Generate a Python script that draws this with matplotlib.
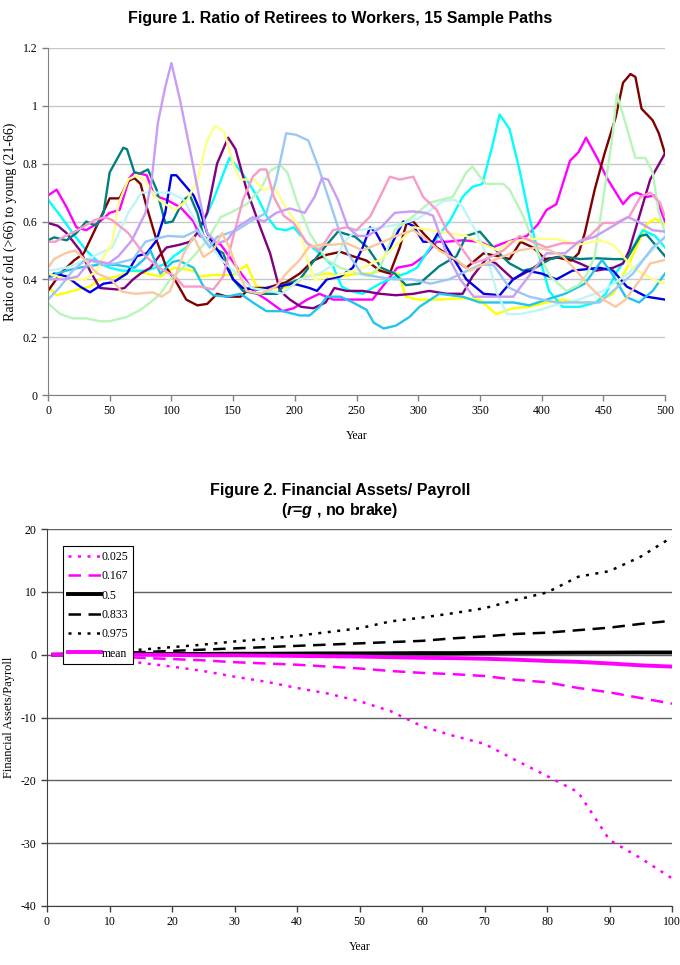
import matplotlib
matplotlib.use("Agg")
import matplotlib.pyplot as plt
from matplotlib.ticker import FuncFormatter
import numpy as np

plt.rcParams["axes.unicode_minus"] = False
plt.rcParams["mathtext.fontset"] = "custom"
plt.rcParams["mathtext.bfit"] = "Liberation Sans:italic:bold"

# ---- Figure 1 data: 15 sample paths, (year, ratio) knots ----
magenta = [(0, .69), (7, .71), (15, .65), (23, .58), (31, .57), (42, .60), (50, .63), (58, .64), (66, .75), (70, .77),
           (80, .76), (86, .69), (96, .675), (107, .65), (118, .60), (123, .55), (130, .54), (140, .52), (150, .46),
           (160, .40), (166, .36), (177, .33), (190, .29), (199, .30), (210, .33), (220, .35), (231, .33), (242, .33),
           (255, .33), (263, .33), (272, .38), (283, .44), (295, .45), (305, .48), (315, .53), (323, .53), (336, .535),
           (350, .53), (360, .51), (369, .525), (380, .54), (388, .55), (397, .59), (404, .64), (412, .66), (423, .81),
           (430, .84), (436, .89), (445, .82), (453, .75), (466, .66), (472, .69), (477, .70), (485, .685), (492, .69),
           (500, .60)]
yellow = [(0, .375), (7, .345), (20, .36), (34, .375), (42, .40), (56, .41), (69, .43), (80, .42), (91, .41), (102, .44),
          (118, .43), (123, .41), (134, .415), (150, .415), (161, .45), (169, .375), (177, .37), (190, .37), (200, .38),
          (208, .41), (227, .42), (240, .41), (250, .42), (261, .42), (270, .43), (284, .42), (290, .34), (300, .33),
          (317, .33), (336, .335), (350, .33), (363, .28), (377, .30), (390, .305), (404, .32), (417, .33), (431, .32),
          (444, .32), (458, .35), (471, .455), (485, .59), (492, .61), (500, .59)]
cyan = [(0, .675), (10, .62), (20, .56), (31, .50), (42, .455), (50, .44), (60, .43), (80, .43), (96, .455), (102, .48),
        (112, .51), (123, .57), (134, .675), (147, .82), (155, .78), (161, .745), (169, .69), (177, .62), (185, .575),
        (193, .57), (199, .58), (210, .525), (220, .49), (231, .445), (238, .375), (245, .36), (255, .35), (269, .385),
        (282, .41), (290, .42), (299, .44), (312, .525), (326, .605), (336, .685), (344, .72), (352, .73), (360, .86),
        (366, .97), (374, .92), (382, .78), (390, .617), (398, .48), (406, .36), (417, .305), (431, .305), (444, .32),
        (452, .35), (460, .42), (471, .49), (482, .57), (492, .55), (500, .51)]
purple = [(0, .595), (8, .585), (15, .56), (26, .50), (34, .43), (42, .37), (56, .365), (62, .37), (69, .40), (75, .42),
          (83, .44), (90, .48), (96, .51), (107, .52), (115, .53), (121, .56), (129, .63), (137, .80), (146, .89),
          (152, .85), (161, .71), (172, .58), (180, .49), (188, .36), (196, .33), (205, .305), (215, .30), (225, .32),
          (232, .37), (242, .36), (255, .36), (269, .35), (282, .345), (296, .35), (309, .36), (323, .35), (336, .35),
          (344, .41), (355, .47), (363, .455), (377, .40), (390, .43), (404, .47), (417, .48), (431, .455), (444, .43),
          (458, .44), (466, .455), (471, .50), (480, .63), (488, .745), (500, .835)]
maroon = [(0, .36), (10, .42), (21, .465), (29, .49), (39, .58), (50, .68), (58, .68), (65, .74), (70, .75), (75, .73),
          (80, .65), (88, .535), (96, .44), (104, .39), (112, .33), (121, .31), (129, .315), (137, .35), (145, .34),
          (156, .34), (164, .37), (177, .37), (193, .39), (204, .42), (215, .465), (226, .485), (237, .495), (247, .48),
          (258, .465), (269, .43), (277, .42), (285, .51), (291, .60), (296, .60), (304, .56), (315, .51), (326, .48),
          (339, .44), (353, .49), (365, .48), (374, .47), (383, .53), (393, .51), (403, .47), (413, .475), (424, .465),
          (430, .49), (435, .56), (443, .71), (451, .835), (460, .96), (466, 1.08), (472, 1.11), (476, 1.10), (481, .99),
          (490, .95), (495, .905), (500, .835)]
teal = [(0, .535), (5, .545), (15, .535), (23, .56), (31, .60), (39, .585), (45, .63), (50, .77), (61, .855), (64, .85),
        (70, .77), (74, .765), (81, .78), (88, .71), (95, .595), (101, .60), (110, .675), (115, .69), (121, .63),
        (126, .55), (134, .51), (142, .49), (150, .40), (158, .36), (170, .35), (186, .35), (191, .38), (204, .40),
        (216, .467), (224, .51), (235, .565), (249, .547), (259, .51), (270, .44), (281, .42), (290, .38), (301, .385),
        (317, .445), (331, .48), (339, .55), (350, .565), (361, .51), (374, .455), (385, .43), (395, .44), (407, .47),
        (417, .48), (431, .47), (444, .473), (458, .47), (469, .47), (480, .55), (485, .555), (493, .515), (500, .48)]
blue = [(0, .405), (5, .42), (15, .41), (26, .375), (34, .355), (45, .385), (53, .39), (64, .42), (72, .48), (80, .49),
        (88, .535), (95, .63), (100, .76), (104, .76), (112, .72), (118, .69), (123, .64), (129, .56), (139, .49),
        (150, .40), (158, .37), (169, .365), (186, .375), (199, .385), (212, .37), (218, .36), (226, .40), (237, .41),
        (247, .44), (255, .51), (261, .58), (266, .56), (275, .49), (280, .535), (288, .60), (296, .585), (304, .53),
        (312, .53), (316, .56), (326, .49), (339, .40), (353, .35), (366, .345), (377, .40), (388, .43), (400, .42),
        (412, .40), (425, .43), (447, .44), (458, .43), (469, .375), (485, .34), (500, .33)]
sky_blue = [(0, .40), (7, .42), (15, .43), (25, .44), (40, .45), (55, .45), (70, .44), (78, .47), (83, .50), (91, .42),
            (101, .46), (106, .465), (118, .44), (126, .375), (134, .345), (145, .34), (156, .35), (166, .32), (177, .29),
            (190, .29), (204, .275), (212, .275), (220, .305), (226, .34), (237, .34), (247, .32), (258, .295), (264, .25),
            (272, .23), (282, .24), (293, .27), (301, .305), (310, .33), (317, .35), (336, .34), (350, .32), (363, .32),
            (377, .32), (390, .31), (404, .33), (419, .35), (435, .385), (449, .467), (457, .42), (468, .34), (479, .32),
            (490, .36), (500, .42)]
light_turquoise = [(0, .43), (15, .44), (32, .47), (52, .51), (65, .63), (76, .70), (87, .70), (99, .70), (110, .675),
                   (126, .55), (140, .47), (153, .42), (165, .37), (180, .36), (190, .35), (204, .40), (220, .42),
                   (231, .45), (240, .53), (250, .57), (270, .58), (285, .59), (300, .61), (307, .63), (320, .67),
                   (330, .675), (336, .65), (345, .58), (355, .49), (364, .35), (372, .28), (383, .28), (399, .295),
                   (410, .31), (430, .33), (450, .36), (470, .42), (490, .50), (500, .55)]
light_green = [(0, .317), (10, .28), (20, .265), (31, .265), (42, .255), (50, .255), (64, .27), (75, .295), (83, .32),
               (91, .35), (99, .40), (107, .43), (118, .48), (129, .535), (140, .615), (150, .635), (161, .66), (172, .71),
               (180, .775), (188, .795), (194, .77), (202, .665), (212, .56), (226, .467), (237, .44), (250, .42),
               (261, .41), (270, .45), (281, .57), (295, .615), (309, .665), (328, .685), (339, .77), (344, .79),
               (350, .755), (355, .73), (369, .73), (374, .71), (385, .62), (396, .50), (407, .41), (420, .36), (430, .38),
               (437, .42), (443, .48), (451, .71), (457, .88), (461, 1.04), (468, .94), (476, .82), (484, .82), (490, .77),
               (495, .63), (500, .56)]
light_yellow = [(0, .42), (15, .40), (30, .40), (40, .43), (44, .47), (52, .525), (57, .66), (65, .745), (72, .76),
                (78, .745), (87, .685), (95, .66), (103, .64), (113, .675), (121, .745), (129, .88), (135, .93), (143, .91),
                (150, .80), (156, .745), (167, .745), (175, .71), (183, .72), (194, .64), (204, .58), (210, .47),
                (216, .40), (230, .41), (250, .43), (270, .47), (285, .53), (296, .58), (310, .57), (325, .56), (339, .55),
                (353, .52), (365, .50), (374, .53), (393, .54), (412, .54), (430, .52), (447, .535), (458, .52),
                (474, .44), (490, .40), (500, .385)]
pale_blue = [(0, .33), (10, .375), (20, .43), (31, .47), (45, .45), (55, .455), (69, .47), (79, .53), (87, .54), (97, .55),
             (110, .547), (121, .57), (131, .51), (137, .547), (153, .57), (166, .605), (177, .63), (185, .745),
             (193, .905), (201, .90), (211, .88), (219, .79), (227, .685), (235, .58), (243, .49), (254, .42), (265, .41),
             (280, .40), (295, .40), (310, .385), (325, .40), (340, .43), (350, .45), (361, .45), (374, .37), (390, .34),
             (412, .32), (447, .32), (458, .36), (474, .42), (490, .51), (500, .545)]
rose = [(0, .53), (6, .53), (14, .55), (24, .57), (38, .605), (46, .615), (52, .605), (65, .56), (79, .48), (90, .44),
        (103, .41), (110, .375), (123, .375), (134, .365), (142, .41), (150, .545), (158, .675), (166, .755), (172, .78),
        (177, .78), (183, .685), (191, .62), (199, .595), (210, .525), (220, .50), (231, .57), (242, .58), (250, .57),
        (261, .617), (269, .685), (277, .755), (285, .745), (296, .755), (304, .685), (315, .64), (323, .57), (334, .515),
        (344, .455), (355, .47), (369, .50), (382, .55), (393, .53), (404, .51), (417, .525), (428, .525), (439, .55),
        (450, .595), (460, .595), (471, .617), (480, .685), (488, .70), (496, .665), (500, .617)]
lavender = [(0, .40), (14, .40), (24, .41), (35, .467), (49, .455), (57, .48), (68, .535), (79, .63), (84, .745), (89, .94),
            (95, 1.065), (100, 1.148), (107, 1.02), (115, .85), (123, .675), (129, .56), (137, .525), (145, .535),
            (153, .58), (166, .615), (175, .60), (185, .63), (196, .645), (208, .63), (216, .685), (222, .75), (227, .745),
            (235, .675), (243, .58), (251, .55), (259, .55), (270, .58), (281, .63), (295, .635), (306, .63), (312, .62),
            (323, .49), (334, .40), (345, .34), (361, .34), (377, .34), (393, .43), (404, .49), (419, .49), (430, .53),
            (443, .547), (462, .595), (470, .615), (478, .60), (490, .57), (500, .565)]
tan = [(0, .44), (5, .47), (14, .49), (22, .50), (30, .467), (40, .42), (51, .40), (60, .357), (71, .35), (85, .355),
       (92, .34), (99, .36), (110, .49), (118, .547), (126, .477), (134, .50), (141, .56), (147, .51), (153, .44),
       (161, .36), (172, .35), (185, .375), (193, .42), (204, .467), (211, .51), (221, .52), (232, .52), (242, .525),
       (255, .50), (269, .525), (282, .55), (296, .57), (306, .54), (317, .50), (331, .467), (342, .43), (355, .455),
       (369, .48), (382, .50), (396, .51), (407, .50), (417, .48), (428, .43), (439, .375), (450, .33), (460, .305),
       (468, .33), (480, .40), (488, .455), (500, .467)]

paths = [magenta, yellow, cyan, purple, maroon, teal, blue, sky_blue, light_turquoise,
         light_green, light_yellow, pale_blue, rose, lavender, tan]
path_colors = ["#FF00FF", "#FFFF00", "#00FFFF", "#800080", "#800000", "#008080", "#0000E6", "#22C4EE",
               "#BFF5F7", "#B8F5B8", "#FFFF88", "#99C8F5", "#F79CC8", "#C99CF5", "#FAC8A0"]

# ---- Figure 2 data: percentiles of financial assets / payroll ----
years2 = [1, 5, 10, 15, 20, 25, 30, 35, 40, 45, 50, 55, 60, 65, 70, 75, 80, 85, 90, 95, 100]
p025 = [0, -0.3, -0.6, -1.3, -1.9, -2.6, -3.5, -4.3, -5.3, -6.2, -7.4, -9.0, -11.4, -12.9, -14.2, -16.8, -19.3,
        -21.9, -29.5, -32.4, -35.6]
p167 = [0, -0.1, -0.3, -0.5, -0.7, -0.9, -1.2, -1.4, -1.6, -1.9, -2.2, -2.6, -2.9, -3.1, -3.4, -4.0, -4.4,
        -5.3, -6.0, -6.9, -7.8]
p500 = [0, 0.05, 0.1, 0.1, 0.1, 0.12, 0.15, 0.15, 0.18, 0.2, 0.2, 0.22, 0.25, 0.25, 0.28, 0.3, 0.3,
        0.32, 0.33, 0.35, 0.35]
p833 = [0, 0.1, 0.2, 0.4, 0.6, 0.8, 1.0, 1.2, 1.4, 1.6, 1.8, 2.0, 2.2, 2.6, 2.9, 3.3, 3.5, 3.9, 4.3, 4.9, 5.4]
p975 = [0, 0.2, 0.4, 0.8, 1.2, 1.6, 2.1, 2.5, 3.0, 3.6, 4.2, 5.3, 5.9, 6.6, 7.4, 8.7, 9.9, 12.4, 13.3, 15.6, 18.7]
mean = [0, 0.05, 0.05, 0.0, -0.05, -0.1, -0.1, -0.15, -0.2, -0.25, -0.3, -0.4, -0.5, -0.55, -0.65, -0.8, -1.0,
        -1.15, -1.4, -1.7, -1.9]

serif = ["Liberation Serif", "DejaVu Serif"]
sans = ["Liberation Sans", "DejaVu Sans"]

fig = plt.figure(figsize=(6.8, 9.65), dpi=100)

# ----------------------------- Figure 1 -----------------------------
ax1 = fig.add_axes([48 / 680, 1 - 395 / 965, 617 / 680, 347 / 965])
for pts, c in zip(paths, path_colors):
    arr = np.array(pts)
    ax1.plot(arr[:, 0], arr[:, 1], color=c, lw=1.7, solid_joinstyle="round")

ax1.set_xlim(0, 500)
ax1.set_ylim(0, 1.2)
ax1.set_xticks(np.arange(0, 501, 50))
ax1.set_yticks(np.arange(0, 1.21, 0.2))
ax1.yaxis.set_major_formatter(FuncFormatter(lambda v, p: f"{v:g}"))
ax1.grid(axis="y", color="#C8C8C8", lw=1)
ax1.set_axisbelow(True)
for s in ["top", "right"]:
    ax1.spines[s].set_visible(False)
for s in ["left", "bottom"]:
    ax1.spines[s].set_color("#808080")
ax1.tick_params(colors="#808080", labelcolor="black", length=4, width=1, labelsize=8.5)
for lab in ax1.get_xticklabels() + ax1.get_yticklabels():
    lab.set_family(serif)
ax1.set_xlabel("Year", family=serif, fontsize=8.5, labelpad=9)
ax1.set_ylabel("Ratio of old (>66) to young (21-66)", family=serif, fontsize=10, labelpad=4)
fig.text(0.5, 1 - 18 / 965, "Figure 1. Ratio of Retirees to Workers, 15 Sample Paths",
         ha="center", va="center", family=sans, weight="bold", fontsize=11.5)

# ----------------------------- Figure 2 -----------------------------
ax2 = fig.add_axes([47 / 680, 1 - 906 / 965, 625 / 680, 377 / 965])
ax2.plot(years2, p025, color="#FF00FF", lw=1.8, ls=(0, (1.2, 2.6)), label="0.025")
ax2.plot(years2, p167, color="#FF00FF", lw=1.8, ls=(0, (5, 3)), label="0.167")
ax2.plot(years2, p500, color="black", lw=2.8, label="0.5")
ax2.plot(years2, p833, color="black", lw=1.8, ls=(0, (5, 3)), label="0.833")
ax2.plot(years2, p975, color="black", lw=1.8, ls=(0, (1.2, 2.6)), label="0.975")
ax2.plot(years2, mean, color="#FF00FF", lw=2.8, label="mean")

ax2.set_xlim(0, 100)
ax2.set_ylim(-40, 20)
ax2.set_xticks(np.arange(0, 101, 10))
ax2.set_yticks(np.arange(-40, 21, 10))
ax2.grid(axis="y", color="#606060", lw=1)
ax2.set_axisbelow(True)
for s in ["top", "right"]:
    ax2.spines[s].set_visible(False)
for s in ["left", "bottom"]:
    ax2.spines[s].set_color("#404040")
ax2.tick_params(colors="#404040", labelcolor="black", length=4, width=1, labelsize=8.5)
for lab in ax2.get_xticklabels() + ax2.get_yticklabels():
    lab.set_family(serif)
ax2.set_xlabel("Year", family=serif, fontsize=8.5, labelpad=9)
ax2.set_ylabel("Financial Assets/Payroll", family=serif, fontsize=9, labelpad=4)

leg = ax2.legend(loc="upper left", bbox_to_anchor=(0.016, 0.97), prop={"family": serif, "size": 8.5},
                 handlelength=2.8, handletextpad=0.1, labelspacing=0.62, borderpad=0.4,
                 fancybox=False, framealpha=1, edgecolor="black")
leg.get_frame().set_linewidth(0.8)

fig.text(0.5, 1 - 491 / 965, "Figure 2. Financial Assets/ Payroll",
         ha="center", va="center", family=sans, weight="bold", fontsize=11.5)
fig.text(0.5, 1 - 511 / 965, r"($\mathbfit{r}$=$\mathbfit{g}$ , no brake)",
         ha="center", va="center", family=sans, weight="bold", fontsize=11.5)

fig.savefig("out.png", dpi=100)
